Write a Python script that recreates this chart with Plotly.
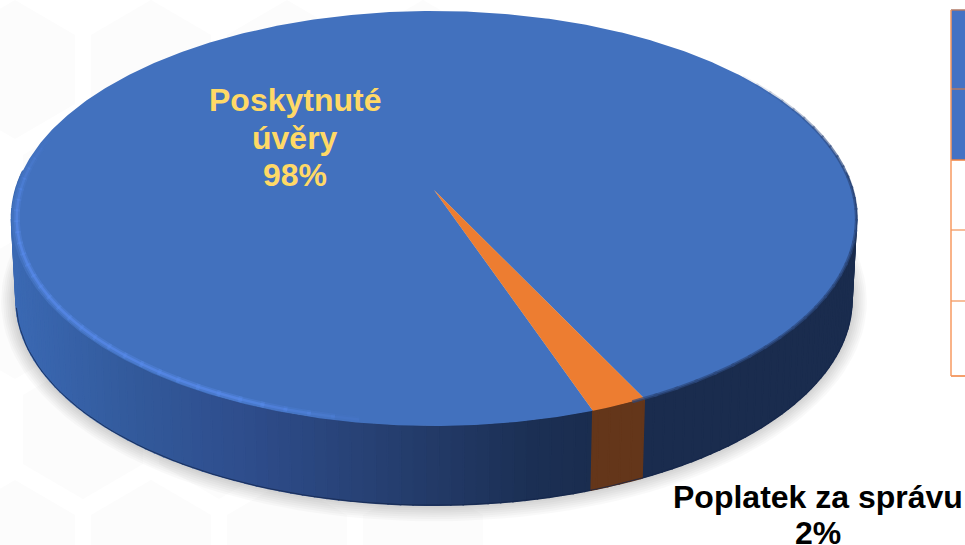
import numpy as np
import plotly.graph_objects as go

# pie data
labels = ["Poskytnuté úvěry", "Poplatek za správu"]
values = [98.1, 1.9]
top_colors = ["#4271BE", "#ED7D31"]
text_lines = [["Poskytnuté", "úvěry", "98%"], ["Poplatek za správu", "2%"]]

# the cropped table on the right edge
table_rows = [10, 89, 160, 230, 301, 376]
table_fill = ["#4472C4", "#4472C4", None, None, None]

# the disc is drawn in pixel coordinates, PowerPoint style rotation
first_slice_angle = 160.7
persp = -0.1372
top_disc = dict(cx=434, cy=190, a=418.5, b=203.6)
low_disc = dict(cx=434, cy=272, a=414.0, b=201.2)

side_stops_x = [0, 130, 240, 390, 530, 610, 965]
side_stops_blue = [(60, 107, 182), (51, 90, 156), (47, 78, 141), (38, 63, 112), (28, 48, 85), (26, 44, 78), (26, 44, 78)]
side_stops_orange = [(100, 54, 26), (100, 54, 26)]


def project(theta, disc, r=1.0):
    t = np.radians(theta)
    x = r * np.sin(t)
    y = -r * np.cos(t)
    d = 1 + persp * y
    return disc["cx"] + disc["a"] * x / d, disc["cy"] + disc["b"] * y / d


def side_color(x, slice_idx):
    if slice_idx == 1:
        return "rgb(%d,%d,%d)" % side_stops_orange[0]
    rgb = [np.interp(x, side_stops_x, [s[i] for s in side_stops_blue]) for i in range(3)]
    return "rgb(%d,%d,%d)" % tuple(rgb)


fig = go.Figure()

# faint hexagons of the slide background
shapes = []
for row, top in enumerate([0, 120, 240, 360, 480]):
    offset = 83 if row % 2 else 15
    for col in range(4):
        c = offset + col * 136
        pts = [(c, top), (c + 60, top + 35), (c + 60, top + 104), (c, top + 139), (c - 60, top + 104), (c - 60, top + 35)]
        path = "M " + " L ".join(f"{p[0]},{p[1]}" for p in pts) + " Z"
        shapes.append(dict(type="path", path=path, fillcolor="#FCFCFC", line=dict(width=0), layer="below"))

# table borders and fills
for i in range(len(table_rows) - 1):
    if table_fill[i]:
        shapes.append(dict(type="rect", x0=951, x1=966, y0=table_rows[i], y1=table_rows[i + 1],
                           fillcolor=table_fill[i], line=dict(width=0), layer="below"))
for i, y in enumerate(table_rows):
    col = "#B07A66" if i < 2 else ("#F0803C" if i in (2, 5) else "#F4A878")
    shapes.append(dict(type="line", x0=951, x1=966, y0=y, y1=y, line=dict(color=col, width=1.5)))
shapes.append(dict(type="line", x0=951, x1=951, y0=table_rows[0], y1=table_rows[-1], line=dict(color="#F79A60", width=1.5)))

# soft shadow under the disc
full = np.linspace(0, 360, 181)
for grow in [15, 13, 11, 9, 7, 5, 3, 1]:
    sx, sy = project(full, low_disc)
    mx, my = sx.mean(), sy.mean()
    sx = mx + (sx - mx) * (1 + grow / 418)
    sy = my + (sy - my) * (1 + grow / 205)
    fig.add_trace(go.Scatter(x=sx, y=sy, mode="lines", fill="toself", line=dict(width=0),
                             fillcolor="rgba(0,0,0,0.022)", hoverinfo="skip"))

# slice limits from the values
fractions = np.array(values) / sum(values) * 360
starts = first_slice_angle + np.concatenate([[0], np.cumsum(fractions)[:-1]])
ends = starts + fractions

# side wall, in thin strips so that it can carry the horizontal shading
for step in np.arange(85, 275, 1.5):
    a0, a1 = step, step + 1.5
    for i in range(len(values)):
        for shift in (0, 360):
            s0 = max(a0, starts[i] - shift)
            s1 = min(a1, ends[i] - shift)
            if s1 <= s0:
                continue
            th = np.array([s0, s1])
            tx, ty = project(th, top_disc)
            bx, by = project(th[::-1], low_disc)
            col = side_color(tx.mean(), i)
            fig.add_trace(go.Scatter(x=np.r_[tx, bx, tx[0]], y=np.r_[ty, by, ty[0]], mode="lines", fill="toself",
                                     line=dict(width=1.6, color=col), fillcolor=col, hoverinfo="skip"))

# dark line on the bottom edge
bx, by = project(np.arange(100, 262, 2.0), low_disc)
fig.add_trace(go.Scatter(x=bx, y=by, mode="lines", line=dict(color="rgba(20,38,75,0.75)", width=1), hoverinfo="skip"))

# top face
for i in range(len(values)):
    th = np.linspace(starts[i], ends[i], max(4, int(fractions[i] * 2)))
    rx, ry = project(th, top_disc)
    fig.add_trace(go.Scatter(x=np.r_[top_disc["cx"], rx, top_disc["cx"]], y=np.r_[top_disc["cy"], ry, top_disc["cy"]],
                             mode="lines", fill="toself", line=dict(width=0), fillcolor=top_colors[i], hoverinfo="skip"))

# bevel: light on the lower left rim, soft dark on the right
for step in np.arange(186, 284, 3.0):
    th = np.array([step, step + 3.5])
    alpha = min(1, (step - 186) / 18) * min(1, (284 - step) / 30)
    hx, hy = project(th, top_disc, 0.988)
    fig.add_trace(go.Scatter(x=hx, y=hy, mode="lines", line=dict(color=f"rgba(90,140,235,{alpha * 0.35:.2f})", width=6), hoverinfo="skip"))
    fig.add_trace(go.Scatter(x=hx, y=hy, mode="lines", line=dict(color=f"rgba(85,135,230,{alpha * 0.8:.2f})", width=2.5), hoverinfo="skip"))
for step in np.arange(50, 154, 3.0):
    th = np.array([step, step + 3.5])
    alpha = min(1, (step - 50) / 30)
    hx, hy = project(th, top_disc)
    fig.add_trace(go.Scatter(x=hx, y=hy, mode="lines", line=dict(color=f"rgba(44,72,125,{alpha * 0.7:.2f})", width=3), hoverinfo="skip"))

# labels
annots = []
for line, yy in zip(text_lines[0], [100, 138, 175]):
    annots.append(dict(x=295, y=yy, text=f"<b>{line}</b>", showarrow=False, font=dict(family="Liberation Sans", size=32, color="#FFD966")))
for line, yy in zip(text_lines[1], [497, 533]):
    annots.append(dict(x=818, y=yy, text=f"<b>{line}</b>", showarrow=False, font=dict(family="Liberation Sans", size=32, color="#000000")))

fig.update_layout(
    width=965, height=545,
    margin=dict(l=0, r=0, t=0, b=0),
    paper_bgcolor="white",
    plot_bgcolor="white",
    showlegend=False,
    shapes=shapes,
    annotations=annots,
    xaxis=dict(range=[0, 965], visible=False, fixedrange=True),
    yaxis=dict(range=[545, 0], visible=False, fixedrange=True),
)

# the page has a default body margin that would push the picture off by 8px
fig.write_html("out.html", config=dict(displayModeBar=False),
               post_script="document.body.style.margin='0';document.documentElement.style.overflow='hidden';")
